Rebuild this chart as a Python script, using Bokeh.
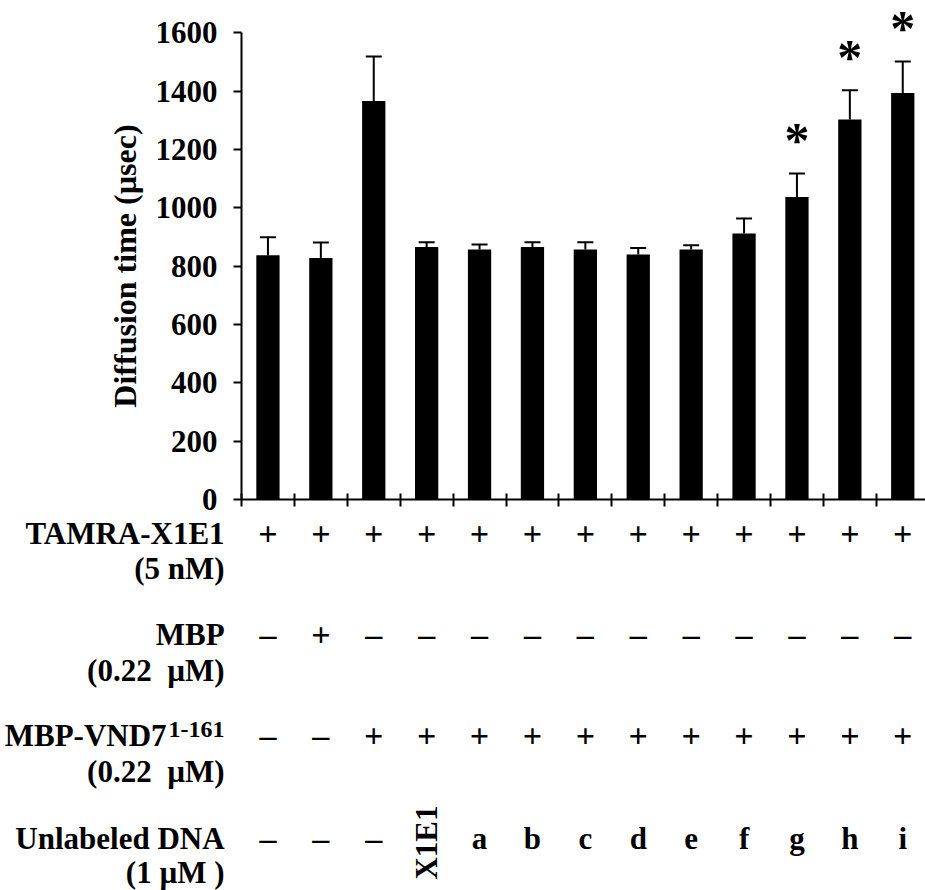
import math
from bokeh.plotting import figure
from bokeh.models import ColumnDataSource, Range1d, FixedTicker, Whisker, TeeHead
from bokeh.embed import file_html
from bokeh.resources import INLINE
from bokeh.core.properties import value

# ---------------- data ----------------
conditions = ["1", "2", "3", "X1E1", "a", "b", "c", "d", "e", "f", "g", "h", "i"]
diffusion_time = [837, 828, 1366, 866, 857, 866, 857, 840, 857, 912, 1037, 1303, 1394]
error = [62, 53, 153, 16, 17, 16, 25, 22, 15, 51, 81, 100, 108]
significant = [False, False, False, False, False, False, False, False, False, False, True, True, True]

tamra = ["+", "+", "+", "+", "+", "+", "+", "+", "+", "+", "+", "+", "+"]
mbp = ["–", "+", "–", "–", "–", "–", "–", "–", "–", "–", "–", "–", "–"]
vnd7 = ["–", "–", "+", "+", "+", "+", "+", "+", "+", "+", "+", "+", "+"]
unlabeled = ["–", "–", "–", "X1E1", "a", "b", "c", "d", "e", "f", "g", "h", "i"]

row_names = ["TAMRA-X1E1", "MBP", "MBP-VND7", "Unlabeled DNA"]
row_units = ["(5 nM)", "(0.22 \u00a0µM)", "(0.22 \u00a0µM)", "(1 µM )"]
superscript = "1-161"

y_ticks = [0, 200, 400, 600, 800, 1000, 1200, 1400, 1600]
y_label = "Diffusion time (µsec)"

# ---------------- layout constants ----------------
FONT = "Liberation Serif"
FS = "31px"
W = 925
H = 890
AXIS_X = 241          # canvas px of the value axis
AXIS_Y = 499          # canvas px of the category axis (value 0)
TOP_TICK_Y = 32.3     # canvas px of value 1600
PX_PER_CAT = 52.9
SCALE = (AXIS_Y - TOP_TICK_Y) / 1600.0   # px per value unit

X_START = -AXIS_X / PX_PER_CAT
X_END = (W - AXIS_X) / PX_PER_CAT
Y_END = AXIS_Y / SCALE
Y_START = -(H - AXIS_Y) / SCALE


def ydata(canvas_y):
    """canvas pixel row -> value coordinate (for rows of the table)"""
    return (AXIS_Y - canvas_y) / SCALE


n = len(conditions)
centers = [i + 0.5 for i in range(n)]

p = figure(width=W, height=H, output_backend="svg", toolbar_location=None,
           x_range=Range1d(X_START, X_END), y_range=Range1d(Y_START, Y_END),
           min_border=0, min_border_left=0, min_border_right=0,
           min_border_top=0, min_border_bottom=0)
p.outline_line_color = None
p.grid.visible = False
p.background_fill_color = "white"
p.border_fill_color = "white"

# ---------------- bars ----------------
src = ColumnDataSource(dict(
    x=centers,
    top=diffusion_time,
    upper=[v + e for v, e in zip(diffusion_time, error)],
))
p.vbar(x="x", top="top", bottom=0, width=0.44, source=src,
       fill_color="black", line_color=None)
wh = Whisker(base="x", lower="top", upper="upper", source=src,
             upper_head=TeeHead(size=16, line_width=2, line_color="black"),
             lower_head=None, line_width=2, line_color="black")
p.add_layout(wh)

sig_src = ColumnDataSource(dict(
    x=[c for c, s in zip(centers, significant) if s],
    y=[v + e for v, e, s in zip(diffusion_time, error, significant) if s],
    t=["*" for s in significant if s],
))
p.text(x="x", y="y", text="t", source=sig_src, text_font=value(FONT),
       text_font_size="50px", text_font_style="bold", text_align="center",
       text_baseline="alphabetic", y_offset=-33, text_color="black")

# ---------------- axes ----------------
ya = p.yaxis[0]
ya.fixed_location = 0
ya.ticker = FixedTicker(ticks=y_ticks)
ya.bounds = (0, 1600)
ya.axis_line_width = 2
ya.major_tick_line_width = 2
ya.major_tick_in = 0
ya.major_tick_out = 8
ya.minor_tick_line_color = None
ya.major_label_text_font = FONT
ya.major_label_text_font_size = "31px"
ya.major_label_text_font_style = "bold"
ya.major_label_text_color = "black"
ya.major_label_standoff = 16
ya.axis_label = y_label
ya.axis_label_text_font = FONT
ya.axis_label_text_font_size = "32px"
ya.axis_label_text_font_style = "bold"
ya.axis_label_text_color = "black"
ya.axis_label_standoff = 10

xa = p.xaxis[0]
xa.fixed_location = 0
xa.bounds = (0, X_END)
xa.ticker = FixedTicker(ticks=list(range(n + 1)))
xa.axis_line_width = 2
xa.major_tick_line_width = 2
xa.major_tick_in = 6
xa.major_tick_out = 7
xa.minor_tick_line_color = None
xa.major_label_text_color = None
xa.major_label_standoff = 0

# ---------------- condition table (below the axis) ----------------
row_cy = [533, 634, 735, 838]     # vertical middles of the rows (canvas px)
unit_cy = [568, 670, 771, 872]    # middles of the concentration lines
rot_cy = 842                      # centre of the rotated label
label_x = -0.32

rows = [tamra, mbp, vnd7, unlabeled]
sx, sy, st = [], [], []   # + / – signs
lx, ly, lt = [], [], []   # letters
rx, ry, rt = [], [], []   # rotated names
for vals, cy in zip(rows, row_cy):
    for c, v in zip(centers, vals):
        if len(v) > 1:
            rx.append(c); ry.append(ydata(rot_cy)); rt.append(v)
        elif v in ("+", "–"):
            sx.append(c); sy.append(ydata(cy)); st.append(v)
        else:
            lx.append(c); ly.append(ydata(cy)); lt.append(v)

common = dict(text_font=value(FONT), text_font_size=FS, text_font_style="bold",
              text_color="black")

p.text(x=sx, y=sy, text=st, text_align="center", text_baseline="middle",
       text_font=value(FONT), text_font_size="34px", text_font_style="bold",
       text_color="black")
p.text(x=lx, y=ly, text=lt, text_align="center", text_baseline="middle", **common)
p.text(x=rx, y=ry, text=rt, angle=math.pi / 2, text_align="center",
       text_baseline="middle", **common)

plain_idx = [0, 1, 3]
p.text(x=[label_x] * 3, y=[ydata(row_cy[i]) for i in plain_idx],
       text=[row_names[i] for i in plain_idx],
       text_align="right", text_baseline="middle", **common)
p.text(x=[label_x], y=[ydata(row_cy[2])], text=[row_names[2]], x_offset=-58,
       text_align="right", text_baseline="middle", **common)
p.text(x=[label_x], y=[ydata(row_cy[2])], text=[superscript], y_offset=-6,
       text_align="right", text_baseline="middle",
       text_font=value(FONT), text_font_size="24px", text_font_style="bold",
       text_color="black")
p.text(x=[label_x] * 4, y=[ydata(c) for c in unit_cy], text=row_units,
       text_align="right", text_baseline="middle", **common)

open("out.html", "w").write(file_html(p, INLINE))
